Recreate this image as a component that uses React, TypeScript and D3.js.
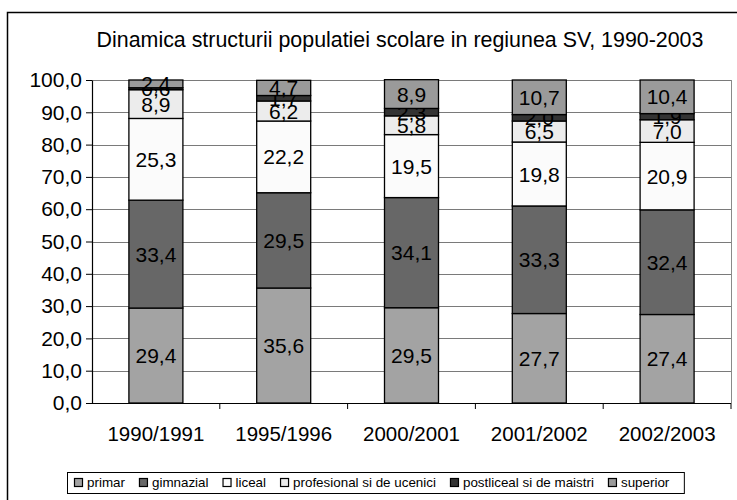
import { useEffect, useRef } from 'react';
import * as d3 from 'd3';

const YEARS = ["1990/1991", "1995/1996", "2000/2001", "2001/2002", "2002/2003"];
const SERIES = ["primar", "gimnazial", "liceal", "profesional si de ucenici", "postliceal si de maistri", "superior"];
const COLORS = ["#a3a3a3", "#676767", "#fbfbfb", "#ececec", "#333333", "#9a9a9a"];

const PRIMAR = [29.4, 35.6, 29.5, 27.7, 27.4];
const GIMNAZIAL = [33.4, 29.5, 34.1, 33.3, 32.4];
const LICEAL = [25.3, 22.2, 19.5, 19.8, 20.9];
const PROFESIONAL = [8.9, 6.2, 5.8, 6.5, 7.0];
const POSTLICEAL = [0.6, 1.7, 2.3, 2.0, 1.9];
const SUPERIOR = [2.4, 4.7, 8.9, 10.7, 10.4];

const Y_TICKS = [0, 10, 20, 30, 40, 50, 60, 70, 80, 90, 100];

const FONT = "'Liberation Sans', Arial, sans-serif";
const fmt = (v: number) => v.toFixed(1).replace(".", ",");

const App = () => {
  const svgRef = useRef<SVGSVGElement>(null);

  useEffect(() => {
    draw();
  }, []);

  function draw() {
    const W = 737, H = 500;
    const left = 92, right = 731, top = 80, bottom = 403;

    const svg = d3.select(svgRef.current);
    svg.selectAll("*").remove();
    svg.attr("width", W).attr("height", H).style("font-family", FONT);

    svg.append("rect")
      .attr("x", 0).attr("y", 0).attr("width", W).attr("height", H)
      .attr("fill", "#fff");

    // outer frame (runs off the right / bottom edge)
    svg.append("rect")
      .attr("x", 7.5).attr("y", 12.5).attr("width", 800).attr("height", 520)
      .attr("fill", "none").attr("stroke", "#000").attr("stroke-width", 1.5);

    const table = YEARS.map((year, i) => ({
      year,
      primar: PRIMAR[i],
      gimnazial: GIMNAZIAL[i],
      liceal: LICEAL[i],
      "profesional si de ucenici": PROFESIONAL[i],
      "postliceal si de maistri": POSTLICEAL[i],
      superior: SUPERIOR[i],
    }));

    const stacked = d3.stack<any>().keys(SERIES)(table);

    const x = d3.scaleBand().domain(YEARS).range([left, right]).padding(0);
    const y = d3.scaleLinear().domain([0, 100]).range([bottom, top]);
    const barW = 54;

    // title
    svg.append("text")
      .attr("x", 400).attr("y", 47)
      .attr("text-anchor", "middle")
      .style("font-size", "21.4px")
      .text("Dinamica structurii populatiei scolare in regiunea SV, 1990-2003");

    // gridlines
    svg.append("g")
      .selectAll("line")
      .data(Y_TICKS.filter(t => t > 0))
      .enter()
      .append("line")
      .attr("x1", left).attr("x2", right)
      .attr("y1", d => Math.round(y(d)) + 0.5).attr("y2", d => Math.round(y(d)) + 0.5)
      .attr("stroke", "#7a7a7a").attr("stroke-width", 1);

    svg.append("line")
      .attr("x1", right + 0.5).attr("x2", right + 0.5)
      .attr("y1", top).attr("y2", bottom)
      .attr("stroke", "#8a8a8a");

    // y axis
    const yAxis = svg.append("g")
      .attr("transform", `translate(${left},0)`)
      .call(d3.axisLeft(y).tickValues(Y_TICKS).tickSize(6).tickSizeOuter(0).tickFormat(d => fmt(+d)));
    yAxis.select("path.domain").attr("stroke", "#000").attr("stroke-width", 1.2);
    yAxis.selectAll(".tick line").attr("stroke", "#000");
    yAxis.selectAll("text")
      .attr("x", -10)
      .attr("fill", "#000")
      .style("font-size", "21px")
      .style("font-family", FONT);

    // x axis
    const xAxis = svg.append("g").attr("transform", `translate(0,${bottom})`);
    xAxis.append("line")
      .attr("x1", left).attr("x2", right)
      .attr("y1", 0.5).attr("y2", 0.5)
      .attr("stroke", "#000").attr("stroke-width", 1.2);
    xAxis.selectAll(".xtick")
      .data(YEARS)
      .enter()
      .append("line")
      .attr("x1", d => (x(d) as number) + x.bandwidth())
      .attr("x2", d => (x(d) as number) + x.bandwidth())
      .attr("y1", 0).attr("y2", 6)
      .attr("stroke", "#000");
    xAxis.selectAll(".xlabel")
      .data(YEARS)
      .enter()
      .append("text")
      .attr("x", d => (x(d) as number) + x.bandwidth() / 2)
      .attr("y", 38)
      .attr("text-anchor", "middle")
      .style("font-size", "20.5px")
      .text(d => d);

    // bars
    const layers = svg.append("g")
      .selectAll("g")
      .data(stacked)
      .enter()
      .append("g")
      .attr("fill", (_d, i) => COLORS[i]);

    layers.selectAll("rect")
      .data(d => d)
      .enter()
      .append("rect")
      .attr("x", d => (x(d.data.year) as number) + x.bandwidth() / 2 - barW / 2)
      .attr("y", d => y(d[1]))
      .attr("width", barW)
      .attr("height", d => y(d[0]) - y(d[1]))
      .attr("stroke", "#000")
      .attr("stroke-width", 1.3);

    layers.selectAll("text")
      .data(d => d.map(p => ({ p, key: d.key })))
      .enter()
      .append("text")
      .attr("x", d => (x(d.p.data.year) as number) + x.bandwidth() / 2)
      .attr("y", d => (y(d.p[0]) + y(d.p[1])) / 2)
      .attr("dy", "0.36em")
      .attr("text-anchor", "middle")
      .attr("fill", "#000")
      .style("font-size", "21px")
      .text(d => fmt(d.p.data[d.key]));

    // legend
    const legend = svg.append("g");
    const box = legend.append("rect")
      .attr("x", 67.5).attr("y", 472.5).attr("height", 21)
      .attr("fill", "#fff").attr("stroke", "#000").attr("stroke-width", 1);

    const gap = 14;
    let cx = 74;
    SERIES.forEach((s, i) => {
      legend.append("rect")
        .attr("x", cx + 0.5).attr("y", 478.5)
        .attr("width", 8).attr("height", 8)
        .attr("fill", COLORS[i]).attr("stroke", "#000").attr("stroke-width", 1.2);
      const t = legend.append("text")
        .attr("x", cx + 13).attr("y", 487)
        .style("font-size", "13.4px")
        .text(s);
      const len = (t.node() as SVGTextElement).getComputedTextLength();
      cx = cx + 13 + len + gap;
    });
    box.attr("width", cx - gap + 15 - 67.5);
  }

  return (
    <div style={{ position: "absolute", left: 0, top: 0 }}>
      <svg ref={svgRef} style={{ display: "block" }}></svg>
    </div>
  );
};

export default App;
